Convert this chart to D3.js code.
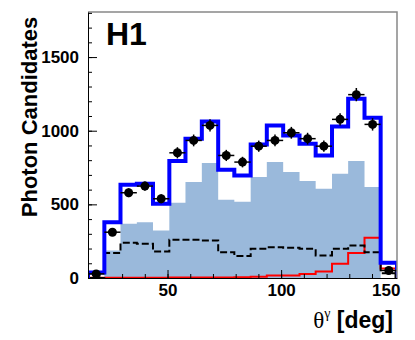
<!DOCTYPE html>
<html>
<head>
<meta charset="utf-8">
<script src="https://cdn.jsdelivr.net/npm/d3@7/dist/d3.min.js"></script>
<style>
  body { margin: 0; background: #fff; }
  svg { display: block; }
  .axis .tick text { font-family: "Liberation Sans", Arial, sans-serif; font-weight: bold; font-size: 17px; fill: #000; }
  .axis path, .axis line { stroke: #000; }
</style>
</head>
<body>
<div id="chart"></div>
<script>

// bin edges in degrees (19 bins)
var binEdges = [15, 22.2, 29.3, 36.5, 43.6, 50.8, 57.9, 65.1, 72.3, 79.4,
                86.6, 93.7, 100.9, 108.1, 115.2, 122.4, 129.5, 136.7, 143.8, 151];

// data points + errors
var dataCounts = [28, 311, 579, 624, 538, 850, 934, 1036, 832, 787,
                  895, 934, 986, 946, 895, 1077, 1245, 1043, 51];
var dataErrors = [10, 25, 30, 32, 30, 38, 40, 42, 38, 36,
                  38, 40, 40, 40, 38, 42, 45, 42, 10];

// MC histograms
var mcTotal      = [37, 379, 633, 640, 504, 794, 946, 1063, 735, 696,
                    907, 1036, 968, 912, 832, 1029, 1217, 1088, 103];
var mcFilled     = [0, 187, 368, 379, 323, 511, 651, 780, 531, 518,
                    685, 787, 719, 658, 606, 708, 794, 617, 0];
var mcDashed     = [0, 169, 239, 232, 180, 259, 259, 255, 175, 150,
                    198, 209, 205, 198, 153, 198, 221, 175, 33];
var mcRed        = [1, 1, 1, 1, 1, 3, 3, 3, 3, 5,
                    8, 17, 17, 28, 44, 96, 169, 273, 65];

var yTicks = [0, 500, 1000, 1500];
var xTicks = [50, 100, 150];

var width = 415;
var height = 340;
var plot = { left: 88, right: 397, top: 12, bottom: 278 };

var x = d3.scaleLinear().domain([15, 151]).range([plot.left, plot.right]);
var y = d3.scaleLinear().domain([0, 1806]).range([plot.bottom, plot.top]);

var svg = d3.select('#chart').append('svg')
    .attr('width', width)
    .attr('height', height);

svg.append('rect').attr('width', width).attr('height', height).attr('fill', '#fff');

svg.append('clipPath').attr('id', 'clip')
  .append('rect')
    .attr('x', plot.left).attr('y', plot.top)
    .attr('width', plot.right - plot.left)
    .attr('height', plot.bottom - plot.top);

function stepPath(vals) {
    var p = d3.path();
    p.moveTo(x(binEdges[0]), y(0));
    vals.forEach(function (v, i) {
        p.lineTo(x(binEdges[i]), y(v));
        p.lineTo(x(binEdges[i + 1]), y(v));
    });
    p.lineTo(x(binEdges[binEdges.length - 1]), y(0));
    return p.toString();
}

var g = svg.append('g').attr('clip-path', 'url(#clip)');

// filled light blue component
g.append('path')
    .attr('d', stepPath(mcFilled) + 'Z')
    .attr('fill', '#9ab9db')
    .attr('stroke', 'none');

// red component
g.append('path')
    .attr('d', stepPath(mcRed))
    .attr('fill', 'none')
    .attr('stroke', '#ff0000')
    .attr('stroke-width', 2);

// dashed component
g.append('path')
    .attr('d', stepPath(mcDashed))
    .attr('fill', 'none')
    .attr('stroke', '#000')
    .attr('stroke-width', 2)
    .attr('stroke-dasharray', '7,3');

// total MC
g.append('path')
    .attr('d', stepPath(mcTotal))
    .attr('fill', 'none')
    .attr('stroke', '#0000ff')
    .attr('stroke-width', 4)
    .attr('stroke-linejoin', 'miter');

// data points with error bars
var pts = svg.append('g').selectAll('.pt')
    .data(dataCounts)
  .enter().append('g')
    .attr('class', 'pt');

pts.append('line')
    .attr('x1', function (d, i) { return x(binEdges[i]); })
    .attr('x2', function (d, i) { return x(binEdges[i + 1]); })
    .attr('y1', function (d) { return y(d); })
    .attr('y2', function (d) { return y(d); })
    .attr('stroke', '#000').attr('stroke-width', 1.5);

pts.append('line')
    .attr('x1', function (d, i) { return (x(binEdges[i]) + x(binEdges[i + 1])) / 2; })
    .attr('x2', function (d, i) { return (x(binEdges[i]) + x(binEdges[i + 1])) / 2; })
    .attr('y1', function (d, i) { return y(d + dataErrors[i]); })
    .attr('y2', function (d, i) { return y(Math.max(0, d - dataErrors[i])); })
    .attr('stroke', '#000').attr('stroke-width', 1.5);

pts.append('circle')
    .attr('cx', function (d, i) { return (x(binEdges[i]) + x(binEdges[i + 1])) / 2; })
    .attr('cy', function (d) { return y(d); })
    .attr('r', 4.5)
    .attr('fill', '#000');

// frame top/right
svg.append('path')
    .attr('d', 'M' + plot.left + ',' + plot.top + 'H' + plot.right + 'V' + plot.bottom)
    .attr('fill', 'none')
    .attr('stroke', '#888')
    .attr('stroke-width', 1.5);

// y axis: minor then major
svg.append('g')
    .attr('class', 'axis')
    .attr('transform', 'translate(' + plot.left + ',0)')
    .call(d3.axisLeft(y).tickValues(d3.range(0, 1801, 100)).tickSize(-4).tickFormat(''))
    .call(function (s) { s.select('.domain').remove(); });

svg.append('g')
    .attr('class', 'axis')
    .attr('transform', 'translate(' + plot.left + ',0)')
    .call(d3.axisLeft(y).tickValues(yTicks).tickSizeInner(-9).tickSizeOuter(0).tickPadding(9).tickFormat(d3.format('d')));

// x axis: minor then major
svg.append('g')
    .attr('class', 'axis')
    .attr('transform', 'translate(0,' + plot.bottom + ')')
    .call(d3.axisBottom(x).tickValues(d3.range(20, 151, 10)).tickSize(-4).tickFormat(''))
    .call(function (s) { s.select('.domain').remove(); });

var xa = svg.append('g')
    .attr('class', 'axis')
    .attr('transform', 'translate(0,' + plot.bottom + ')')
    .call(d3.axisBottom(x).tickValues(xTicks).tickSizeInner(-8).tickSizeOuter(0).tickPadding(6).tickFormat(d3.format('d')));

xa.selectAll('.tick text')
    .attr('dx', function (d) { return d === 150 ? -9 : 0; });

// titles
svg.append('text')
    .attr('transform', 'translate(37,117) rotate(-90)')
    .attr('text-anchor', 'middle')
    .style('font-family', '"Liberation Sans", Arial, sans-serif')
    .style('font-weight', 'bold')
    .style('font-size', '22px')
    .text('Photon Candidates');

var xt = svg.append('text')
    .attr('x', 393)
    .attr('y', 328)
    .attr('text-anchor', 'end')
    .style('font-size', '23px');

xt.append('tspan')
    .style('font-family', '"Liberation Serif", "DejaVu Serif", serif')
    .text('θ');
xt.append('tspan')
    .style('font-family', '"Liberation Serif", "DejaVu Serif", serif')
    .style('font-size', '14px')
    .attr('dy', -10)
    .text('γ');
xt.append('tspan')
    .attr('dy', 10)
    .style('font-family', '"Liberation Sans", Arial, sans-serif')
    .style('font-weight', 'bold')
    .text(' [deg]');

svg.append('text')
    .attr('x', 106)
    .attr('y', 45)
    .style('font-family', '"Liberation Sans", Arial, sans-serif')
    .style('font-weight', 'bold')
    .style('font-size', '32px')
    .text('H1');

</script>
</body>
</html>
